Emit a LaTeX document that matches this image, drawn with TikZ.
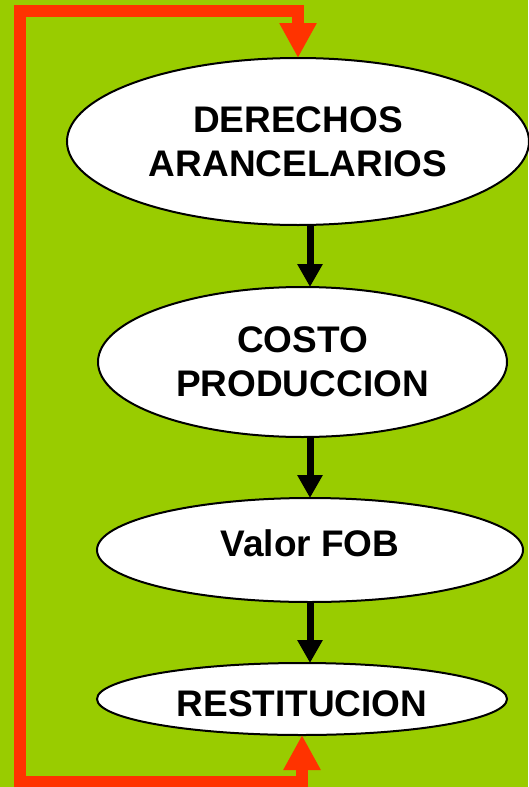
\documentclass[tikz,border=0pt]{standalone}
\usepackage{fontspec}
\setmainfont{Liberation Sans}
\usetikzlibrary{shapes.geometric,arrows.meta}
\definecolor{bggreen}{HTML}{99CC00}
\definecolor{looporange}{HTML}{FF3300}
\tikzset{
  oval/.style={ellipse, draw=black, line width=2pt, fill=white, inner sep=0pt, outer sep=0pt,
    align=center, font=\fontsize{37}{44}\selectfont\bfseries},
  flowarrow/.style={line width=7pt, -{Triangle[length=23pt,width=24pt]}},
  looparrow/.style={draw=looporange, line width=12pt, line join=miter,
    {Triangle[length=35pt,width=35pt]}-{Triangle[length=35pt,width=35pt]}}
}
\begin{document}
\begin{tikzpicture}[x=1pt,y=-1pt]
\fill[bggreen] (0,0) rectangle (528,787);
\useasboundingbox (0,0) rectangle (528,787);
\node[oval, minimum width=462pt, minimum height=167pt] (d) at (298,141.5) {DERECHOS\\ARANCELARIOS};
\node[oval, minimum width=409pt, minimum height=150pt] (c) at (302.5,362) {COSTO\\PRODUCCION};
\node[oval, minimum width=426pt, minimum height=104pt, text height=27pt, text depth=14pt] (v) at (310,550) {Valor FOB};
\node[oval, minimum width=410pt, minimum height=72pt, text height=35pt, text depth=0pt] (r) at (302,699) {RESTITUCION};
\draw[flowarrow] ([xshift=12pt]d.south) -- ([xshift=7.5pt]c.north);
\draw[flowarrow] ([xshift=7.5pt]c.south) -- (v.north);
\draw[flowarrow] (v.south) -- ([xshift=8pt]r.north);
\coordinate (bl) at (20,782);
\coordinate (tl) at (20,11);
\draw[looparrow] (r.south) |- (bl) -- (tl) -| (d.north);
\end{tikzpicture}
\end{document}
